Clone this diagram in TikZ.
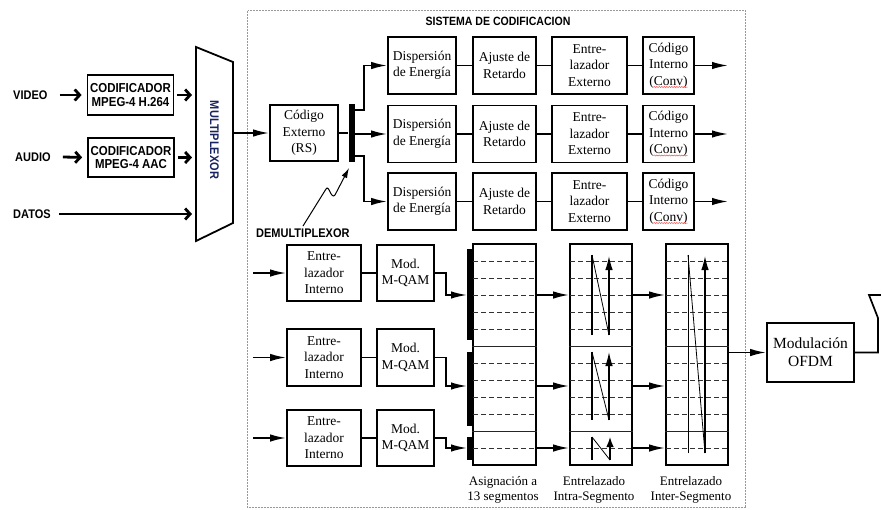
\documentclass[tikz,border=0pt]{standalone}
\usepackage{fontspec}
\setmainfont{Liberation Serif}
\newfontfamily\lab[FakeStretch=0.88]{Liberation Sans}
\usetikzlibrary{arrows.meta,calc,decorations.pathmorphing}
\definecolor{muxtext}{RGB}{25,35,95}
\begin{document}
\begin{tikzpicture}[x=1pt,y=-1pt,
  box/.style={draw, line width=1.8pt, inner sep=0pt, align=center, font=\fontsize{13.5}{16.5}\selectfont},
  sbox/.style={draw, line width=1.8pt, inner sep=0pt, align=center, font=\lab\bfseries\fontsize{13}{13.5}\selectfont},
  lbl/.style={font=\lab\bfseries\fontsize{12.5}{14}\selectfont, inner sep=0pt},
  btxt/.style={inner sep=0pt, align=center, font=\fontsize{13}{15}\selectfont},
  con/.style={line width=1.7pt},
  arr/.style={line width=1.7pt, -{Latex[length=16pt,width=7.5pt]}},
  farr/.style={line width=2.8pt, -{Straight Barb[length=5pt,width=11pt]}},
  dsh/.style={line width=1pt, dash pattern=on 5pt off 3pt, black!80},
  divl/.style={line width=1pt, black!85},
  zig/.style={line width=0.8pt},
  zigv/.style={line width=1.3pt},
  uparr/.style={line width=1.3pt, -{Latex[length=14pt,width=7.5pt]}},
  squig/.style={red!70, line width=0.5pt, decorate, decoration={snake, amplitude=0.6pt, segment length=2.5pt}}
]
\useasboundingbox (0,0) rectangle (881,509);

% frame
\draw[gray!80, line width=0.8pt, dash pattern=on 2pt off 1pt] (247.5,10.5) rectangle (745.5,507.5);
\node[lbl, font=\lab\bfseries\fontsize{12}{14}\selectfont] (tit) at (498,21) {SISTEMA DE CODIFICACION};

% inputs
\node[lbl, anchor=west] (vid) at (13,95) {VIDEO};
\node[lbl, anchor=west] (aud) at (15,157) {AUDIO};
\node[lbl, anchor=west] (dat) at (13,214) {DATOS};
\node[sbox, minimum width=86pt, minimum height=40pt] (c1) at (130.5,95) {CODIFICADOR\\MPEG-4 H.264};
\node[sbox, minimum width=86pt, minimum height=39pt] (c2) at (131,157.5) {CODIFICADOR\\MPEG-4 AAC};

% multiplexor
\coordinate (m1) at (196,47);
\coordinate (m2) at (233,62);
\coordinate (m3) at (233,223);
\coordinate (m4) at (196,241);
\draw[line width=1.8pt] (m1) -- (m2) -- (m3) -- (m4) -- cycle;
\node[lbl, rotate=-90, text=muxtext] (mux) at (214.5,140) {MULTIPLEXOR};

\draw[farr, shorten >=5pt] ([xshift=12pt]vid.east) -- (c1.west);
\draw[farr, shorten >=5pt] ([xshift=12pt]aud.east) -- (c2.west);
\draw[farr, shorten <=3pt, shorten >=4pt] (c1.east) -- (c1.east -| m1);
\draw[farr, shorten <=3pt, shorten >=4pt] (c2.east) -- (c2.east -| m1);
\draw[farr, shorten >=4pt] ([xshift=8pt]dat.east) -- (dat.east -| m1);

% codigo externo and demux
\node[box, minimum width=68pt, minimum height=56pt] (ce) at (304,133) {Código\\Externo\\(RS)};
\coordinate (mo) at (233,133);
\draw[arr] (mo) -- (ce.west);
\node[fill, inner sep=0pt, minimum width=6pt, minimum height=58pt] (dmx) at (351.5,133) {};
\draw[con] (ce.east) -- (ce.east -| dmx.west);

% upper rows
\foreach \i/\y in {1/65.5,2/134,3/201.5} {
  \node[box, minimum width=68pt, minimum height=57pt] (d\i) at (422,\y) {Dispersión\\de Energía};
  \node[box, minimum width=63pt, minimum height=57pt] (a\i) at (504.5,\y) {Ajuste de\\Retardo};
  \node[box, minimum width=75pt, minimum height=57pt] (e\i) at (589.5,\y) {Entre-\\lazador\\Externo};
  \node[box, minimum width=51pt, minimum height=57pt] (ci\i) at (668.5,\y) {Código\\Interno\\(Conv)};
  \coordinate (o\i) at (728,\y);
  \draw[con] (d\i.east) -- (a\i.west);
  \draw[con] (a\i.east) -- (e\i.west);
  \draw[con] (e\i.east) -- (ci\i.west);
  \draw[arr] (ci\i.east) -- (o\i);
  \draw[squig] ($(ci\i.center)+(-15,21.5)$) -- ++(34,0);
}
\draw[arr] ($(dmx.north east)+(0,6)$) -| ($(d1.west)+(-23,0)$) -- (d1.west);
\draw[arr] (dmx.east |- d2.west) -- (d2.west);
\draw[arr] ($(dmx.south east)+(0,-6)$) -| ($(d3.west)+(-23,0)$) -- (d3.west);

% demultiplexor label and lightning arrow
\node[lbl, anchor=west] (dml) at (256,233) {DEMULTIPLEXOR};
\draw[line width=1pt, -{Latex[length=10pt,width=6pt]}] (303,226) -- (326,189) .. controls (329,184) and (331,200) .. (335,195) -- (349,168);

% lower rows
\coordinate (t1) at (467,295);
\coordinate (t2) at (467,386);
\coordinate (t3) at (467,448);
\foreach \i/\y/\h in {1/273/56,2/357.5/57,3/438/56} {
  \node[box, minimum width=74pt, minimum height=\h pt] (ii\i) at (324,\y) {Entre-\\lazador\\Interno};
  \node[box, minimum width=57pt, minimum height=\h pt] (mq\i) at (405.5,\y) {Mod.\\M-QAM};
  \coordinate (in\i) at (253,\y);
  \draw[arr] (in\i) -- (ii\i.west);
  \draw[con] (ii\i.east) -- (mq\i.west);
  \draw[arr] (mq\i.east) -- ++(11,0) |- (t\i);
}

% bars
\fill (467,249) rectangle (473,340);
\fill (467,352) rectangle (473,426);
\fill (467,437) rectangle (473,460);

% segment boxes
\node[draw, line width=1.8pt, inner sep=0pt, minimum width=63pt, minimum height=221pt] (asg) at (504.5,354.5) {};
\node[draw, line width=1.8pt, inner sep=0pt, minimum width=62pt, minimum height=221pt] (intra) at (601,354.5) {};
\node[draw, line width=1.8pt, inner sep=0pt, minimum width=62pt, minimum height=221pt] (inter) at (697,354.5) {};
\foreach \b in {asg,intra,inter} {
  \foreach \yy in {261,278,295,312,329,363,380,397,414,448} {
    \draw[dsh] ([xshift=0.9pt]\b.west |- 0,\yy) -- ([xshift=-0.9pt]\b.east |- 0,\yy);
  }
  \foreach \yy in {346,431} {
    \draw[divl] (\b.west |- 0,\yy) -- (\b.east |- 0,\yy);
  }
}
\foreach \t in {t1,t2,t3} {
  \draw[arr] (asg.east |- \t) -- (intra.west |- \t);
  \draw[arr] (intra.east |- \t) -- (inter.west |- \t);
}

% intra-segment zigzags
\draw[zigv] (592,335) -- (592,255);
\draw[zig] (592,255) -- (609,335);
\draw[uparr] (609,335) -- (609,256);
\draw[zigv] (592,420) -- (592,352);
\draw[zig] (592,352) -- (609,420);
\draw[uparr] (609,420) -- (609,352);
\draw[zigv] (592,460) -- (592,437);
\draw[zig] (592,437) -- (610,460);
\draw[line width=1.3pt, -{Latex[length=10pt,width=7.5pt]}] (610,460) -- (610,437);

% inter-segment zigzag
\draw[zig] (688,453) -- (688,255);
\draw[zig] (688,255) -- (705,453);
\draw[uparr] (705,453) -- (705,256);

% OFDM and antenna
\node[box, font=\fontsize{15.5}{18}\selectfont, minimum width=87pt, minimum height=59pt] (ofdm) at (810.5,352.5) {Modulación\\OFDM};
\draw[arr] (inter.east |- ofdm.west) -- (ofdm.west);
\coordinate (ant1) at (878,318);
\coordinate (ant2) at (869,295);
\coordinate (ant3) at (895,295);
\draw[con] (ofdm.east) -| (ant1) -- (ant2) -- (ant3);

% bottom labels
\node[btxt] (lasg) at (503,489.5) {Asignación a\\13 segmentos};
\node[btxt] (lintra) at (594,489.5) {Entrelazado\\Intra-Segmento};
\node[btxt] (linter) at (691,489.5) {Entrelazado\\Inter-Segmento};
\end{tikzpicture}
\end{document}
